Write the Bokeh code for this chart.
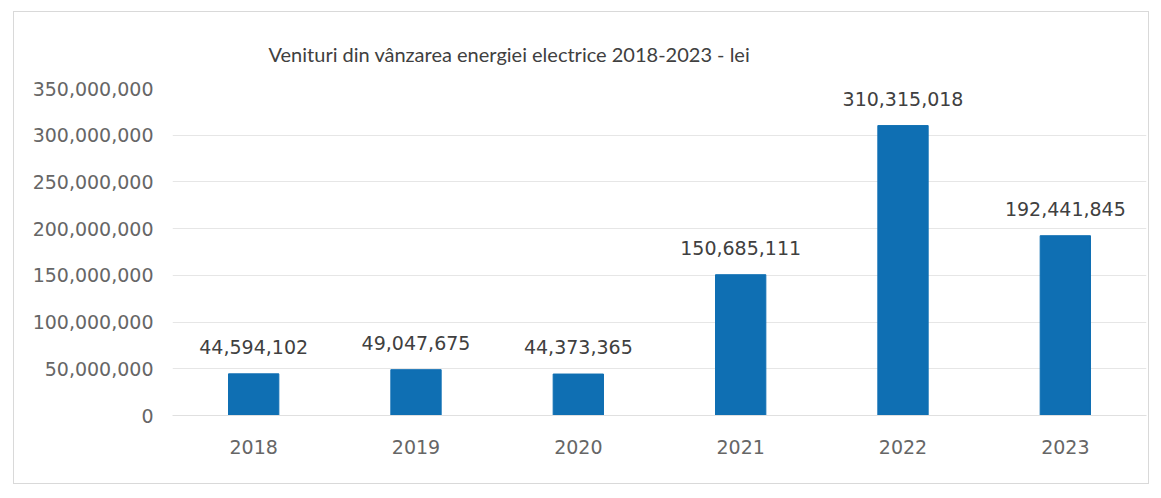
from bokeh.plotting import figure
from bokeh.models import ColumnDataSource, NumeralTickFormatter, Range1d, Title, FixedTicker
from bokeh.embed import file_html
from bokeh.resources import INLINE
from bokeh.core.properties import value

years = ["2018", "2019", "2020", "2021", "2022", "2023"]
revenues = [44594102, 49047675, 44373365, 150685111, 310315018, 192441845]
labels = ["44,594,102", "49,047,675", "44,373,365", "150,685,111", "310,315,018", "192,441,845"]
y_ticks = [0, 50000000, 100000000, 150000000, 200000000, 250000000, 300000000, 350000000]
title_text = "Venituri din vânzarea energiei electrice 2018-2023 - lei"

src = ColumnDataSource(dict(x=years, y=revenues, lab=labels))

FONT = "DejaVu Sans"
TFONT = "Lato"

p = figure(x_range=years, y_range=Range1d(0, 350000000),
           width=1136, height=473, output_backend="svg", toolbar_location=None,
           min_border_left=158, min_border_right=4, min_border_top=76, min_border_bottom=70)
p.margin = (11, 0, 0, 13)
p.styles = {"border": "1px solid #d9d9d9"}

p.vbar(x="x", top="y", width=0.31, source=src, color="#0f6fb3")
p.text(x="x", y="y", text="lab", source=src, text_align="center", text_baseline="bottom",
       y_offset=-20, text_font=value(FONT), text_font_size="19px", text_color="#404040")

t = Title(text=title_text, align="left",
          offset=96, text_font=TFONT, text_font_size="20px", text_font_style="normal",
          text_color="#404040", standoff=45)
p.add_layout(t, "above")

p.yaxis.ticker = FixedTicker(ticks=y_ticks)
p.yaxis.formatter = NumeralTickFormatter(format="0,0")
p.yaxis.axis_line_color = None
p.yaxis.major_tick_line_color = None
p.yaxis.minor_tick_line_color = None
p.yaxis.major_label_standoff = 13
p.yaxis.major_label_text_font = FONT
p.yaxis.major_label_text_font_size = "19px"
p.yaxis.major_label_text_color = "#666666"

p.xaxis.axis_line_color = "#e0e0e0"
p.xaxis.major_tick_line_color = None
p.xaxis.minor_tick_line_color = None
p.xaxis.major_label_standoff = 18
p.xaxis.major_label_text_font = FONT
p.xaxis.major_label_text_font_size = "19px"
p.xaxis.major_label_text_color = "#666666"

p.xgrid.grid_line_color = None
p.ygrid.grid_line_color = "#e6e6e6"
p.outline_line_color = None
p.x_range.range_padding = 0.0

open("out.html", "w").write(file_html(p, INLINE))
